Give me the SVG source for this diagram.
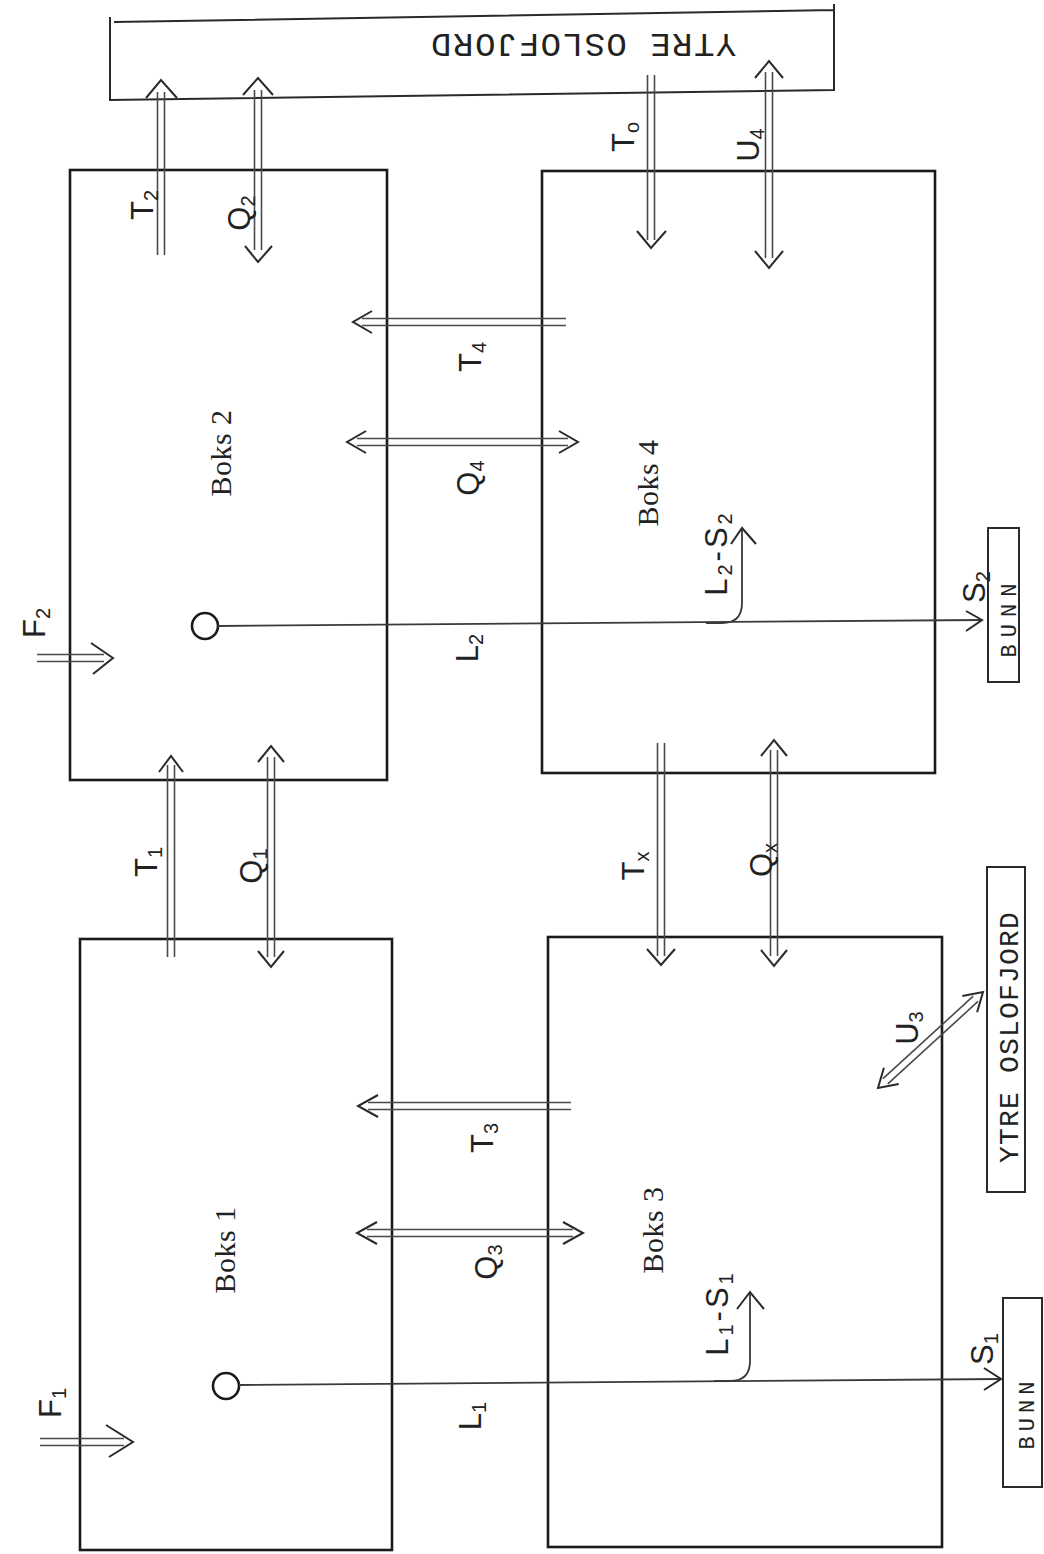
<svg xmlns="http://www.w3.org/2000/svg" width="1044" height="1554" viewBox="0 0 1044 1554">
<style>
.box{fill:none;stroke:#1a1a1a;stroke-width:2.6}
.frame{fill:none;stroke:#2a2a2a;stroke-width:2}
.dl{fill:none;stroke:#4a4a4a;stroke-width:1.6}
.head{fill:none;stroke:#2a2a2a;stroke-width:2;stroke-linejoin:miter}
.flow{fill:none;stroke:#3a3a3a;stroke-width:1.8}
.hand{font-family:"Liberation Sans","DejaVu Sans",sans-serif;font-size:31px;fill:#222;text-anchor:middle}
.sub{font-size:20px}
.typed{font-family:"Liberation Mono","DejaVu Sans Mono",monospace;fill:#222;text-anchor:middle}
.boks{font-family:"Liberation Serif","DejaVu Serif",serif;font-size:30px;letter-spacing:0.5px;fill:#222;text-anchor:middle}
</style>
<rect width="1044" height="1554" fill="#ffffff"/>

<g id="ytre-top">
<path class="frame" d="M110,17 V100 L834,90 V4 M114,22 L834,10"/>
<text class="typed" font-size="34" letter-spacing="1.5" transform="translate(583,34) rotate(180)">YTRE OSLOFJORD</text>
</g>

<g id="box2">
<rect class="box" x="70" y="170" width="317" height="610"/>
<circle class="box" cx="205" cy="626" r="13"/>
<text class="boks" transform="translate(231,453) rotate(-90)">Boks 2</text>
</g>

<g id="box4">
<rect class="box" x="542" y="171" width="393" height="602"/>
<text class="boks" transform="translate(658,483) rotate(-90)">Boks 4</text>
</g>

<g id="box1">
<rect class="box" x="80" y="939" width="312" height="611"/>
<circle class="box" cx="226" cy="1386" r="13"/>
<text class="boks" transform="translate(235,1250) rotate(-90)">Boks 1</text>
</g>

<g id="box3">
<rect class="box" x="548" y="937" width="394" height="610"/>
<text class="boks" transform="translate(663,1230) rotate(-90)">Boks 3</text>
</g>

<g id="bunn-top">
<rect class="frame" x="988" y="528" width="31" height="154"/>
<text class="typed" font-size="22" letter-spacing="7" transform="translate(1016,617) rotate(-90)">BUNN</text>
</g>

<g id="bunn-bottom">
<rect class="frame" x="1003" y="1298" width="39" height="189"/>
<text class="typed" font-size="22" letter-spacing="5" transform="translate(1034,1413) rotate(-90)">BUNN</text>
</g>

<g id="ytre-right">
<rect class="frame" x="987" y="867" width="38" height="325"/>
<text class="typed" font-size="28" letter-spacing="1.2" transform="translate(1018,1037) rotate(-90)">YTRE OSLOFJORD</text>
</g>

<g id="connectors">
<!-- T2 -->
<line class="dl" x1="157.5" y1="92" x2="157.5" y2="255"/><line class="dl" x1="164.5" y1="92" x2="164.5" y2="255"/>
<polyline class="head" points="146,98 161,80 177,98"/>
<!-- Q2 -->
<line class="dl" x1="254.5" y1="90" x2="254.5" y2="250"/><line class="dl" x1="261.5" y1="90" x2="261.5" y2="250"/>
<polyline class="head" points="243,95 258,78 273,95"/><polyline class="head" points="245,246 258,262 272,246"/>
<!-- T0 -->
<line class="dl" x1="647.5" y1="75" x2="647.5" y2="240"/><line class="dl" x1="654.5" y1="75" x2="654.5" y2="240"/>
<polyline class="head" points="637,231 651,248 666,231"/>
<!-- U4 -->
<line class="dl" x1="765.5" y1="72" x2="765.5" y2="258"/><line class="dl" x1="772.5" y1="72" x2="772.5" y2="258"/>
<polyline class="head" points="755,78 769,61 783,78"/><polyline class="head" points="755,251 769,268 783,251"/>
<!-- T4 -->
<line class="dl" x1="362" y1="318.5" x2="566" y2="318.5"/><line class="dl" x1="362" y1="325.5" x2="566" y2="325.5"/>
<polyline class="head" points="372,311 353,322 372,333"/>
<!-- Q4 -->
<line class="dl" x1="357" y1="438.5" x2="568" y2="438.5"/><line class="dl" x1="357" y1="445.5" x2="568" y2="445.5"/>
<polyline class="head" points="366,431 347,442 366,453"/><polyline class="head" points="559,431 578,442 559,453"/>
<!-- F2 -->
<line class="dl" x1="37" y1="654.5" x2="104" y2="654.5"/><line class="dl" x1="37" y1="661.5" x2="104" y2="661.5"/>
<polyline class="head" points="91,643 113,658 93,674"/>
<!-- T1 -->
<line class="dl" x1="167.5" y1="765" x2="167.5" y2="957"/><line class="dl" x1="174.5" y1="765" x2="174.5" y2="957"/>
<polyline class="head" points="159,772 171,756 183,772"/>
<!-- Q1 -->
<line class="dl" x1="267.5" y1="757" x2="267.5" y2="957"/><line class="dl" x1="274.5" y1="757" x2="274.5" y2="957"/>
<polyline class="head" points="258,762 271,746 284,762"/><polyline class="head" points="258,951 271,967 284,951"/>
<!-- Tx -->
<line class="dl" x1="657.5" y1="743" x2="657.5" y2="956"/><line class="dl" x1="664.5" y1="743" x2="664.5" y2="956"/>
<polyline class="head" points="647,949 661,965 675,949"/>
<!-- Qx -->
<line class="dl" x1="770.5" y1="750" x2="770.5" y2="956"/><line class="dl" x1="777.5" y1="750" x2="777.5" y2="956"/>
<polyline class="head" points="761,756 774,740 787,756"/><polyline class="head" points="761,950 774,966 787,950"/>
<!-- T3 -->
<line class="dl" x1="368" y1="1102.5" x2="571" y2="1102.5"/><line class="dl" x1="368" y1="1109.5" x2="571" y2="1109.5"/>
<polyline class="head" points="378,1095 358,1106 378,1117"/>
<!-- Q3 -->
<line class="dl" x1="367" y1="1229.5" x2="573" y2="1229.5"/><line class="dl" x1="367" y1="1236.5" x2="573" y2="1236.5"/>
<polyline class="head" points="377,1222 357,1233 377,1244"/><polyline class="head" points="563,1222 583,1233 563,1244"/>
<!-- U3 -->
<line class="dl" x1="887.8" y1="1083.9" x2="978" y2="1001.4"/><line class="dl" x1="883" y1="1078.7" x2="973.2" y2="996.2"/>
<polyline class="head" points="898.7,1083.9 878,1088 883.9,1067.7"/><polyline class="head" points="977.1,1012.3 983,992 962.3,996.1"/>
<!-- F1 -->
<line class="dl" x1="40" y1="1438.5" x2="124" y2="1438.5"/><line class="dl" x1="40" y1="1445.5" x2="124" y2="1445.5"/>
<polyline class="head" points="106,1425 133,1442 109,1457"/>
<!-- L2 sinking line -->
<path class="flow" d="M218,626 L981,620"/>
<path class="flow" d="M706,623 H722 Q742,623 742,603 V529"/>
<polyline class="head" points="731,544 742,528 756,544"/>
<polyline class="head" points="966,611 982,620 966,631"/>
<!-- L1 sinking line -->
<path class="flow" d="M239,1385 L1000,1379"/>
<path class="flow" d="M714,1381 H730 Q750,1381 750,1361 V1294"/>
<polyline class="head" points="737,1309 750,1292 764,1309"/>
<polyline class="head" points="984,1368 1001,1379 984,1390"/>

<g id="labels">
<text class="hand" transform="translate(153,205) rotate(-90)">T<tspan class="sub" dy="5">2</tspan></text>
<text class="hand" transform="translate(250,213) rotate(-90)">Q<tspan class="sub" dy="5">2</tspan></text>
<text class="hand" transform="translate(634,137) rotate(-90)">T<tspan class="sub" dy="5">o</tspan></text>
<text class="hand" transform="translate(759,145) rotate(-90)">U<tspan class="sub" dy="5">4</tspan></text>
<text class="hand" transform="translate(481,357) rotate(-90)">T<tspan class="sub" dy="5">4</tspan></text>
<text class="hand" transform="translate(479,478) rotate(-90)">Q<tspan class="sub" dy="5">4</tspan></text>
<text class="hand" transform="translate(45,623) rotate(-90)">F<tspan class="sub" dy="5">2</tspan></text>
<text class="hand" transform="translate(478,648) rotate(-90)">L<tspan class="sub" dy="5">2</tspan></text>
<text class="hand" letter-spacing="3" transform="translate(727,553) rotate(-90)">L<tspan class="sub" dy="5">2</tspan><tspan dy="-5">-S</tspan><tspan class="sub" dy="5">2</tspan></text>
<text class="hand" transform="translate(985,587) rotate(-90)">S<tspan class="sub" dy="5">2</tspan></text>
<text class="hand" transform="translate(157,862) rotate(-90)">T<tspan class="sub" dy="5">1</tspan></text>
<text class="hand" transform="translate(262,866) rotate(-90)">Q<tspan class="sub" dy="5">1</tspan></text>
<text class="hand" transform="translate(644,866) rotate(-90)">T<tspan class="sub" dy="5">x</tspan></text>
<text class="hand" transform="translate(772,860) rotate(-90)">Q<tspan class="sub" dy="5">x</tspan></text>
<text class="hand" transform="translate(493,1138) rotate(-90)">T<tspan class="sub" dy="5">3</tspan></text>
<text class="hand" transform="translate(497,1262) rotate(-90)">Q<tspan class="sub" dy="5">3</tspan></text>
<text class="hand" transform="translate(918,1028) rotate(-90)">U<tspan class="sub" dy="5">3</tspan></text>
<text class="hand" transform="translate(481,1416) rotate(-90)">L<tspan class="sub" dy="5">1</tspan></text>
<text class="hand" letter-spacing="3" transform="translate(728,1313) rotate(-90)">L<tspan class="sub" dy="5">1</tspan><tspan dy="-5">-S</tspan><tspan class="sub" dy="5">1</tspan></text>
<text class="hand" transform="translate(993,1349) rotate(-90)">S<tspan class="sub" dy="5">1</tspan></text>
<text class="hand" transform="translate(61,1403) rotate(-90)">F<tspan class="sub" dy="5">1</tspan></text>
</g>
</g>
</svg>
